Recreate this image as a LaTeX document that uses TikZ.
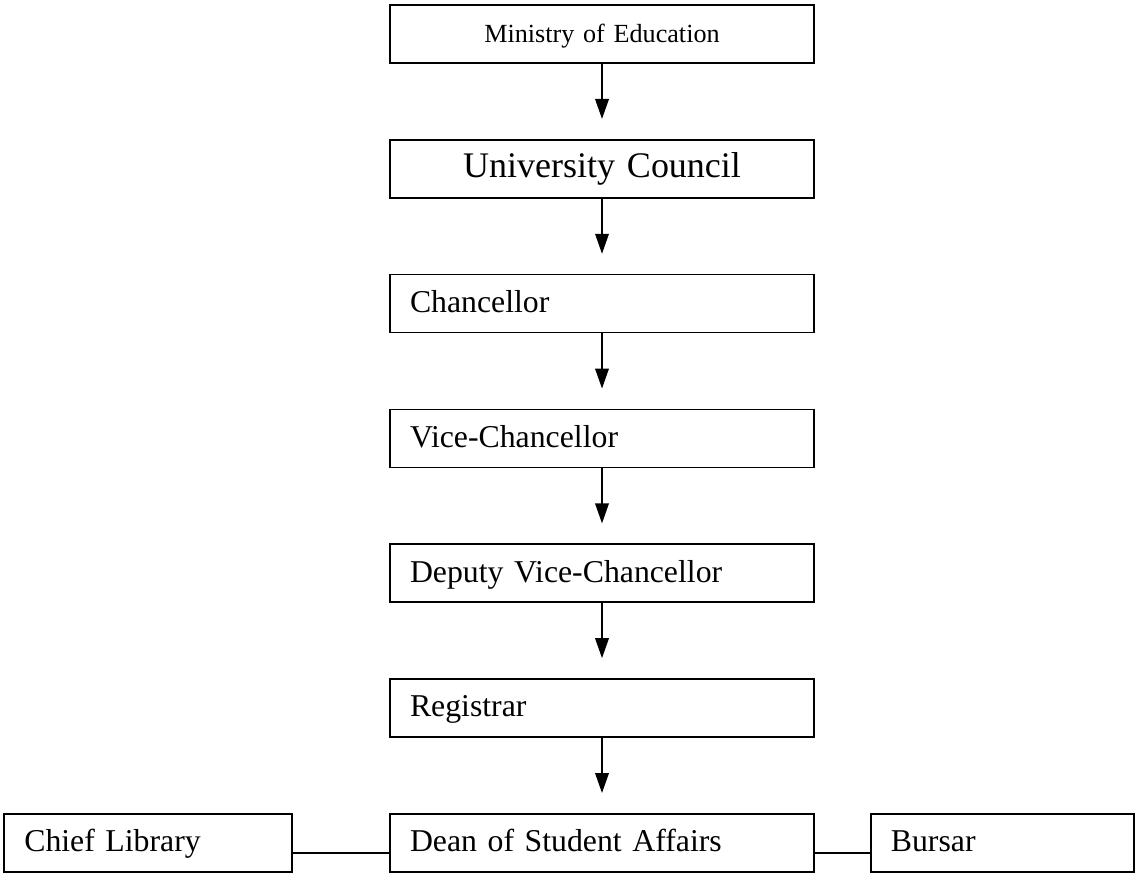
\documentclass[tikz,border=0pt]{standalone}
\usepackage{fontspec}
\setmainfont{Liberation Serif}
\usepackage{tikz}
\usetikzlibrary{arrows.meta, positioning}
\tikzset{
  >={Triangle[length=0.25cm, width=0.17cm]},
  post/.style={draw, line width=0.6pt, minimum height=0.725cm, inner xsep=0.25cm,
    text width=4.8cm, text height=0.85em, text depth=0.22em, align=left,
    font=\fontsize{11.3}{13}\selectfont},
  head/.style={post, align=center},
  link/.style={line width=0.6pt}
}

\begin{document}
\begin{tikzpicture}[node distance=0.939cm]
    \useasboundingbox (0,0) rectangle (14.3,-10.925);

    \node[head, font=\fontsize{9.3}{11}\selectfont] (ministry) at (7.525,-0.425) {Ministry of Education};
    \node[head, font=\fontsize{12.8}{15}\selectfont] (council) [below=of ministry] {University Council};
    \node[post] (chancellor) [below=of council] {Chancellor};
    \node[post] (vc) [below=of chancellor] {Vice-Chancellor};
    \node[post] (dvc) [below=of vc] {Deputy Vice-Chancellor};
    \node[post] (registrar) [below=of dvc] {Registrar};
    \node[post] (dean) [below=of registrar] {Dean of Student Affairs};
    \node[post, text width=3.1cm] (library) [left=1.2cm of dean] {Chief Library};
    \node[post, text width=2.79cm] (bursar) [right=0.69cm of dean] {Bursar};

    \draw[->, link] (ministry.south) -- ([yshift=0.25cm]council.north);
    \draw[->, link] (council.south) -- ([yshift=0.25cm]chancellor.north);
    \draw[->, link] (chancellor.south) -- ([yshift=0.25cm]vc.north);
    \draw[->, link] (vc.south) -- ([yshift=0.25cm]dvc.north);
    \draw[->, link] (dvc.south) -- ([yshift=0.25cm]registrar.north);
    \draw[->, link] (registrar.south) -- ([yshift=0.25cm]dean.north);

    \draw[link] ([yshift=-0.13cm]library.east) -- ([yshift=-0.13cm]dean.west);
    \draw[link] ([yshift=-0.13cm]dean.east) -- ([yshift=-0.13cm]bursar.west);
\end{tikzpicture}
\end{document}
